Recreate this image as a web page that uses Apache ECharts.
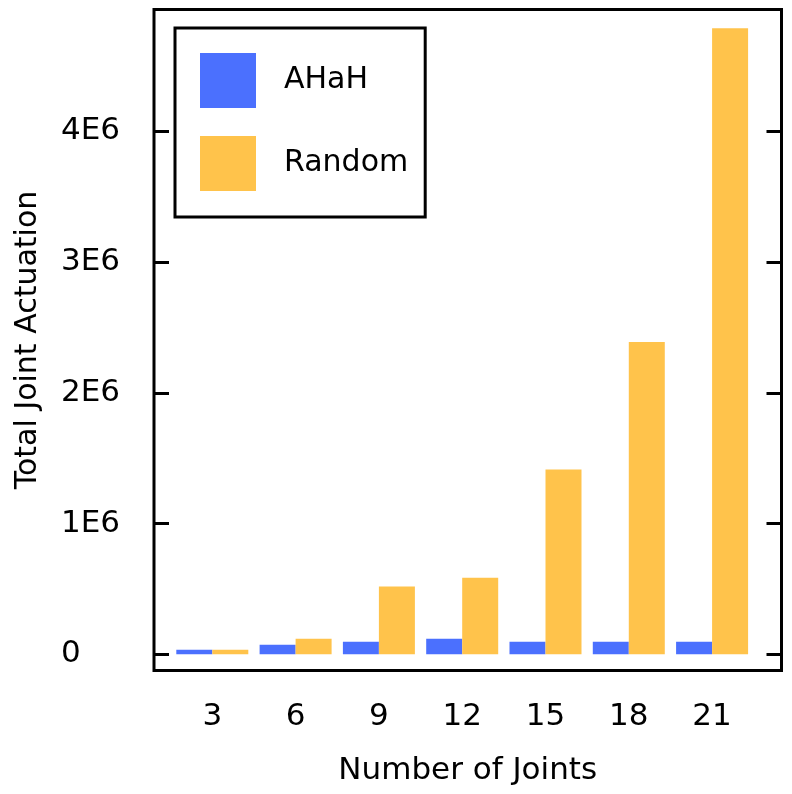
<!DOCTYPE html>
<html>
<head>
<meta charset="utf-8">
<script src="https://cdn.jsdelivr.net/npm/echarts@6/dist/echarts.min.js"></script>
<style>html,body{margin:0;padding:0;background:#fff}#c{width:792px;height:794px}</style>
</head>
<body>
<div id="c"></div>
<script>
var joints = [3, 6, 9, 12, 15, 18, 21];
var ahah = [34000, 73000, 96000, 119000, 96000, 96000, 96000];
var random = [34000, 119000, 519000, 586000, 1414000, 2389000, 4790000];
var yTicks = [0, 1000000, 2000000, 3000000, 4000000];
var yTickLabels = ['0', '1E6', '2E6', '3E6', '4E6'];

var FONT = 'DejaVu Sans';
var chart = echarts.init(document.getElementById('c'), null, {renderer: 'canvas'});
var yMin = -124000, yMax = 4933000;
chart.setOption({
  animation: false,
  backgroundColor: '#fff',
  textStyle: {fontFamily: FONT},
  grid: {left: 154, top: 9.5, right: 10.5, bottom: 123.5, show: true, borderColor: '#000', borderWidth: 3, backgroundColor: 'transparent'},
  legend: {
    left: 175, top: 28, orient: 'vertical',
    itemWidth: 56, itemHeight: 55, itemGap: 28,
    padding: [25, 17, 26, 25],
    borderColor: '#000', borderWidth: 3,
    icon: 'rect',
    textStyle: {fontFamily: FONT, fontSize: 30, color: '#000', padding: [0, 0, 0, 23]},
    data: ['AHaH', 'Random']
  },
  xAxis: {
    type: 'value', min: 0.9, max: 23.5,
    name: 'Number of Joints', nameLocation: 'middle', nameGap: 85,
    nameTextStyle: {fontFamily: FONT, fontSize: 31, color: '#000'},
    axisLine: {show: false}, axisTick: {show: false}, splitLine: {show: false},
    axisLabel: {customValues: joints, fontFamily: FONT, fontSize: 31, color: '#000', margin: 31,
      formatter: function (v) { return String(v); }}
  },
  yAxis: [{
    type: 'value', min: yMin, max: yMax, position: 'left',
    name: 'Total Joint Actuation', nameLocation: 'middle', nameGap: 111,
    nameTextStyle: {fontFamily: FONT, fontSize: 30, color: '#000'},
    axisLine: {show: false}, splitLine: {show: false},
    axisTick: {show: true, inside: true, length: 15, customValues: yTicks, lineStyle: {color: '#000', width: 3}},
    axisLabel: {customValues: yTicks, align: 'left', margin: 93, fontFamily: FONT, fontSize: 31, color: '#000',
      formatter: function (v) { var i = yTicks.indexOf(v); return i >= 0 ? yTickLabels[i] : ''; }}
  }, {
    type: 'value', min: yMin, max: yMax, position: 'right',
    axisLine: {show: false}, splitLine: {show: false},
    axisTick: {show: true, inside: true, length: 15, customValues: yTicks, lineStyle: {color: '#000', width: 3}},
    axisLabel: {show: false}
  }],
  series: [{
    name: 'AHaH', type: 'bar', barWidth: 36, barGap: '0%',
    itemStyle: {color: '#4B70FE'},
    data: joints.map(function (j, i) { return [j, ahah[i]]; })
  }, {
    name: 'Random', type: 'bar', barWidth: 36, barGap: '0%',
    itemStyle: {color: '#FFC34B'},
    data: joints.map(function (j, i) { return [j, random[i]]; })
  }]
});
</script>
</body>
</html>
